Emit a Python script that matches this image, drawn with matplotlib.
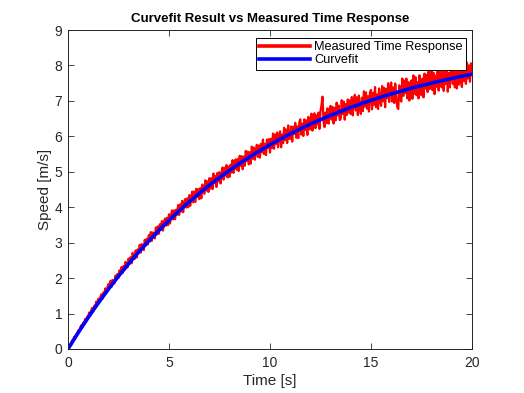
import numpy as np
import matplotlib
matplotlib.use("Agg")
import matplotlib.pyplot as plt

plt.rcParams['font.family'] = ['Liberation Sans', 'DejaVu Sans']

# Measured time response, sampled every 0.05 s from 0 to 20 s
time_start = 0.0
time_step = 0.05
measured = [
    0.00, 0.08, 0.11, 0.11, 0.24, 0.21, 0.34, 0.32, 0.41, 0.38,
    0.52, 0.48, 0.59, 0.67, 0.60, 0.74, 0.72, 0.85, 0.78, 0.91,
    0.91, 1.03, 0.94, 1.09, 1.16, 1.07, 1.22, 1.21, 1.34, 1.25,
    1.42, 1.32, 1.46, 1.54, 1.41, 1.59, 1.56, 1.71, 1.58, 1.74,
    1.83, 1.74, 1.92, 1.75, 1.95, 1.91, 1.85, 2.07, 1.96, 2.12,
    2.01, 2.22, 2.15, 2.31, 2.14, 2.34, 2.23, 2.46, 2.34, 2.30,
    2.55, 2.40, 2.59, 2.42, 2.71, 2.59, 2.54, 2.78, 2.58, 2.81,
    2.71, 2.94, 2.72, 2.96, 2.91, 2.79, 3.08, 2.92, 3.11, 2.95,
    3.21, 3.03, 3.30, 3.05, 3.29, 3.23, 3.12, 3.43, 3.23, 3.46,
    3.25, 3.52, 3.36, 3.61, 3.34, 3.58, 3.68, 3.48, 3.70, 3.49,
    3.80, 3.54, 3.78, 3.91, 3.66, 3.91, 3.66, 3.93, 3.79, 4.06,
    3.78, 4.08, 3.88, 4.18, 3.86, 4.13, 4.23, 3.99, 4.25, 4.00,
    4.34, 4.04, 4.28, 4.44, 4.14, 4.44, 4.15, 4.52, 4.29, 4.51,
    4.23, 4.54, 4.25, 4.64, 4.52, 4.38, 4.76, 4.47, 4.73, 4.43,
    4.82, 4.53, 4.82, 4.51, 4.95, 4.68, 4.88, 4.57, 4.97, 4.73,
    4.99, 4.67, 4.97, 5.12, 4.78, 5.11, 4.89, 5.19, 4.84, 5.14,
    4.86, 5.20, 4.98, 5.33, 4.97, 5.22, 5.35, 5.06, 5.36, 5.02,
    5.45, 5.17, 5.44, 5.07, 5.43, 5.17, 5.59, 5.31, 5.57, 5.21,
    5.55, 5.23, 5.71, 5.37, 5.68, 5.34, 5.61, 5.76, 5.42, 5.74,
    5.40, 5.79, 5.55, 5.91, 5.50, 5.79, 5.47, 5.91, 5.68, 5.92,
    5.54, 5.93, 5.67, 6.08, 5.65, 6.05, 5.79, 6.11, 5.69, 6.03,
    6.14, 5.69, 6.05, 5.81, 6.24, 5.90, 6.19, 5.81, 6.31, 5.93,
    5.93, 6.28, 5.85, 6.27, 6.07, 6.38, 5.96, 6.28, 5.95, 6.39,
    6.48, 6.05, 6.36, 6.01, 6.48, 6.18, 6.45, 6.04, 6.55, 6.20,
    6.20, 6.64, 6.16, 6.51, 6.65, 6.23, 6.59, 6.34, 6.67, 6.21,
    6.71, 6.88, 7.12, 6.41, 6.26, 6.67, 6.37, 6.79, 6.36, 6.70,
    6.86, 6.47, 6.83, 6.36, 6.80, 6.45, 6.95, 6.59, 6.87, 6.46,
    6.49, 7.02, 6.63, 6.98, 6.47, 6.91, 6.60, 7.04, 6.67, 7.01,
    6.63, 7.11, 6.59, 7.02, 7.17, 6.73, 7.10, 6.60, 7.15, 6.80,
    6.63, 7.09, 6.71, 7.27, 6.84, 7.24, 6.78, 7.13, 6.70, 7.24,
    7.31, 6.76, 7.23, 6.89, 7.39, 6.82, 7.18, 6.77, 7.35, 7.01,
    6.86, 7.42, 6.99, 7.37, 6.82, 7.34, 7.08, 7.50, 6.97, 7.34,
    7.52, 6.98, 7.38, 6.94, 7.49, 7.12, 6.83, 6.77, 7.44, 7.07,
    6.98, 7.63, 7.14, 7.57, 7.22, 7.63, 7.07, 7.53, 7.01, 7.49,
    7.58, 7.06, 7.72, 7.20, 7.67, 7.16, 7.53, 7.07, 7.72, 7.32,
    7.16, 7.63, 7.10, 7.77, 7.35, 7.73, 7.25, 7.83, 7.33, 7.74,
    7.85, 7.30, 7.79, 7.19, 7.71, 7.40, 7.84, 7.29, 7.92, 7.48,
    7.38, 7.95, 7.28, 7.82, 7.48, 7.89, 7.26, 7.79, 7.38, 7.96,
    7.93, 7.48, 8.01, 7.38, 7.86, 7.35, 7.82, 7.46, 8.02, 7.57,
    7.39, 8.08, 7.56, 8.00, 7.48, 8.08, 7.63, 8.00, 7.54, 8.06,
    7.80,
]

# Curvefit, read every 0.5 s from 0 to 20 s
fit_step = 0.5
curvefit = [
    0.000, 0.456, 0.888, 1.298, 1.687, 2.055, 2.404, 2.736, 3.050, 3.348,
    3.630, 3.898, 4.152, 4.393, 4.621, 4.837, 5.043, 5.237, 5.422, 5.597,
    5.763, 5.920, 6.069, 6.211, 6.345, 6.472, 6.593, 6.707, 6.815, 6.918,
    7.016, 7.108, 7.196, 7.279, 7.358, 7.432, 7.503, 7.570, 7.634, 7.694,
    7.752,
]

x_ticks = [0, 5, 10, 15, 20]
y_ticks = [0, 1, 2, 3, 4, 5, 6, 7, 8, 9]

t_meas = time_start + time_step * np.arange(len(measured))
t_fit = time_start + fit_step * np.arange(len(curvefit))

fig = plt.figure(figsize=(5.24, 3.93), dpi=100)
ax = fig.add_axes([68/524, 1 - 349/393, 404/524, 319/393])

ax.plot(t_meas, measured, color='#ff0000', lw=1.6, label='Measured Time Response')
ax.plot(t_fit, curvefit, color='#0000ff', lw=2.6, label='Curvefit')

ax.set_xlim(0, 20)
ax.set_ylim(0, 9)
ax.set_xticks(x_ticks)
ax.set_yticks(y_ticks)
ax.tick_params(direction='in', length=4, width=0.6, top=True, right=True,
               labelsize=10, colors='#262626')
ax.tick_params(axis='x', pad=5)
ax.tick_params(axis='y', pad=4)
for s in ax.spines.values():
    s.set_linewidth(0.7)
    s.set_color('#222222')

ax.set_xlabel('Time [s]', fontsize=11, color='#262626', labelpad=3)
ax.set_ylabel('Speed [m/s]', fontsize=11, color='#262626', labelpad=2)
ax.set_title('Curvefit Result vs Measured Time Response', fontsize=9.5,
             fontweight='bold', pad=6)

leg = ax.legend(loc='upper right', bbox_to_anchor=(0.985, 0.975), borderaxespad=0,
                fontsize=9.2, fancybox=False, framealpha=1, edgecolor='black',
                handlelength=4.0, handletextpad=0.3, borderpad=0.25, labelspacing=0.1)
leg.get_frame().set_linewidth(0.7)
for line in leg.get_lines():
    line.set_linewidth(2.6)

fig.savefig('out.png', dpi=100)
